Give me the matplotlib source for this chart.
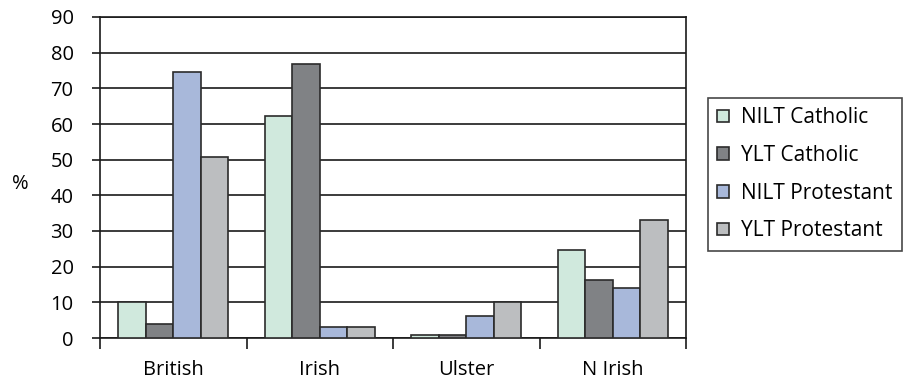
#Identity by religion, NILT vs YLT
import numpy as np
import matplotlib.pyplot as plt

plt.rcParams['font.family'] = ['Open Sans', 'DejaVu Sans']

#data
categories = ['British', 'Irish', 'Ulster', 'N Irish']
series = ['NILT Catholic', 'YLT Catholic', 'NILT Protestant', 'YLT Protestant']
nilt_catholic = [10.1, 62.2, 0.8, 24.7]
ylt_catholic = [3.8, 76.9, 0.8, 16.3]
nilt_protestant = [74.6, 3.2, 6.2, 13.9]
ylt_protestant = [50.7, 3.2, 10.0, 33.1]
colours = ['#d0e9dd', '#808285', '#a8b8da', '#bcbec0']

values = [nilt_catholic, ylt_catholic, nilt_protestant, ylt_protestant]

fig = plt.figure(figsize=(9.19, 3.83), dpi=100)
ax = fig.add_axes([100/919, 45/383, 586/919, 321/383])

x = np.arange(len(categories))
w = 0.75/4
for i in range(4):
    ax.bar(x - 0.375 + w*(i+0.5), values[i], width=w, color=colours[i],
           edgecolor='#2b2b2b', linewidth=1.2, label=series[i], zorder=3)

ax.set_xlim(-0.5, 3.5)
ax.set_ylim(0, 90)
ax.set_yticks(range(0, 91, 10))
ax.yaxis.grid(True, color='#1a1a1a', linewidth=1.2, zorder=0)
ax.set_xticks(x)
ax.set_xticklabels(categories, fontsize=14.5)
ax.tick_params(axis='x', length=0, pad=16)
ax.set_xticks(np.arange(-0.5, 4, 1), minor=True)
ax.tick_params(axis='x', which='minor', length=8, width=1.2, color='#1a1a1a')
ax.tick_params(axis='y', labelsize=14.5, length=6, width=1.2, color='#1a1a1a', pad=13)
for s in ax.spines.values():
    s.set_color('#1a1a1a')
    s.set_linewidth(1.2)

ax.set_ylabel('%', fontsize=14.5, rotation=0, labelpad=24, va='center')
ax.yaxis.set_label_coords(-80/586, 0.48)

leg = fig.legend(loc='upper left', bbox_to_anchor=(708/919, 1-98/383), fontsize=15,
                 frameon=True, fancybox=False, edgecolor='#1a1a1a',
                 handlelength=0.55, handleheight=0.55, handletextpad=0.6,
                 labelspacing=0.8, borderpad=0.45, borderaxespad=0)
leg.get_frame().set_linewidth(1.2)

plt.savefig('out.png', dpi=100)
